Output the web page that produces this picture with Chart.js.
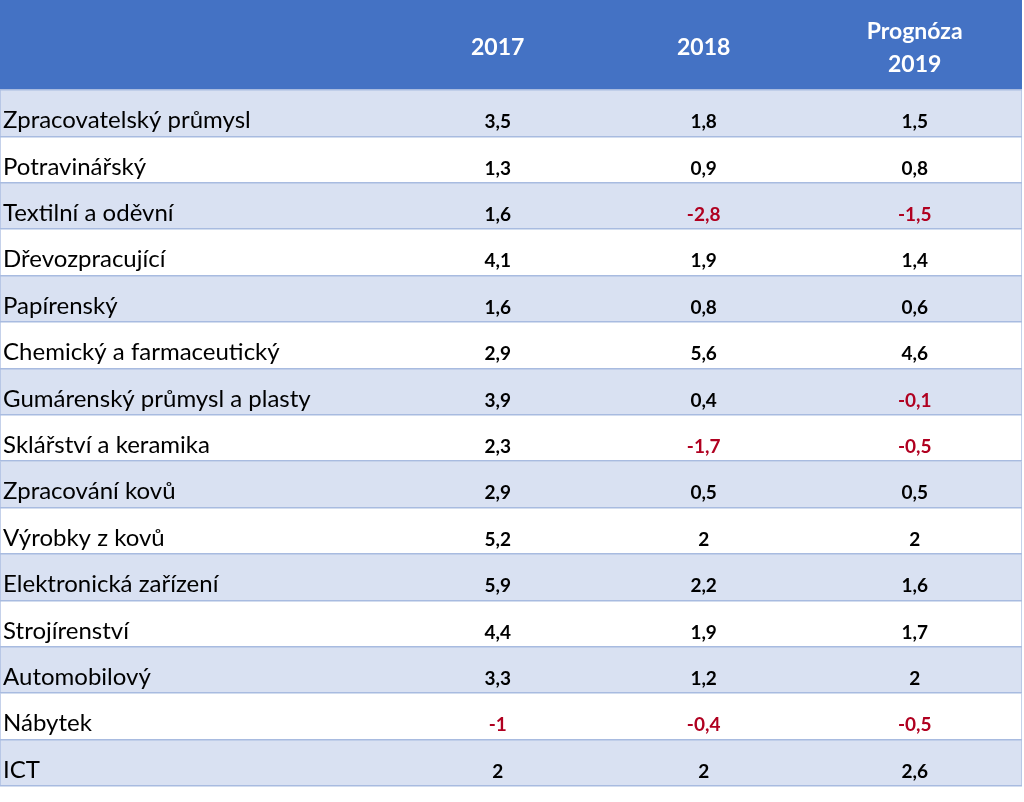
<!DOCTYPE html>
<html>
<head>
<meta charset="utf-8">
<script src="https://cdn.jsdelivr.net/npm/chart.js@4/dist/chart.umd.min.js"></script>
<style>
  html, body { margin: 0; padding: 0; background: #ffffff; }
  #wrap { position: relative; width: 1024px; height: 802px; }
</style>
</head>
<body>
<div id="wrap"><canvas id="c"></canvas></div>
<script>
// ---- data ----
const categories = [
  'Zpracovatelský průmysl', 'Potravinářský', 'Textilní a oděvní', 'Dřevozpracující',
  'Papírenský', 'Chemický a farmaceutický', 'Gumárenský průmysl a plasty',
  'Sklářství a keramika', 'Zpracování kovů', 'Výrobky z kovů', 'Elektronická zařízení',
  'Strojírenství', 'Automobilový', 'Nábytek', 'ICT'
];
const columnHeaders = [['2017'], ['2018'], ['Prognóza', '2019']];
const values2017 = [3.5, 1.3, 1.6, 4.1, 1.6, 2.9, 3.9, 2.3, 2.9, 5.2, 5.9, 4.4, 3.3, -1, 2];
const values2018 = [1.8, 0.9, -2.8, 1.9, 0.8, 5.6, 0.4, -1.7, 0.5, 2, 2.2, 1.9, 1.2, -0.4, 2];
const values2019 = [1.5, 0.8, -1.5, 1.4, 0.6, 4.6, -0.1, -0.5, 0.5, 2, 1.6, 1.7, 2, -0.5, 2.6];
const seriesValues = [values2017, values2018, values2019];

// ---- layout / style (not data) ----
const COL_CENTERS = [0.487, 0.6885, 0.895];   // in x-scale units (0..1 = table width)
const LABEL_X = 0.003;
const HEADER_BG = '#4472C4';
const BAND_BG = '#D9E1F2';
const LINE_COL = '#A8BBE0';
const NEG_COL = '#B00020';
const FONT = 'Lato, "Open Sans", sans-serif';

const fmt = v => String(v).replace('.', ',');

const tablePlugin = {
  id: 'tablePlugin',
  beforeDatasetsDraw(chart) {
    const ctx = chart.ctx, xs = chart.scales.x, ca = chart.chartArea;
    const x0 = xs.getPixelForValue(0), x1 = xs.getPixelForValue(1);
    ctx.save();
    ctx.fillStyle = HEADER_BG;
    ctx.fillRect(x0, 0, x1 - x0, ca.top);
    ctx.restore();
  },
  afterDraw(chart) {
    const ctx = chart.ctx, xs = chart.scales.x, ys = chart.scales.y, ca = chart.chartArea;
    ctx.save();
    // header texts
    ctx.fillStyle = '#ffffff';
    ctx.font = 'bold 23px ' + FONT;
    ctx.textAlign = 'center';
    ctx.textBaseline = 'alphabetic';
    const hc = ca.top / 2;
    columnHeaders.forEach((lines, i) => {
      const cx = xs.getPixelForValue(COL_CENTERS[i]);
      if (lines.length === 1) {
        ctx.fillText(lines[0], cx, hc + 10);
      } else {
        ctx.fillText(lines[0], cx, hc - 6);
        ctx.fillText(lines[1], cx, hc + 27);
      }
    });
    // row labels
    ctx.textAlign = 'left';
    ctx.fillStyle = '#000000';
    ctx.font = '24px ' + FONT;
    categories.forEach((lab, r) => {
      ctx.fillText(lab, xs.getPixelForValue(LABEL_X), ys.getPixelForValue(r) + 15);
    });
    // values
    ctx.textAlign = 'center';
    ctx.font = 'bold 19px ' + FONT;
    seriesValues.forEach((arr, c) => {
      const cx = xs.getPixelForValue(COL_CENTERS[c]);
      arr.forEach((v, r) => {
        ctx.fillStyle = v < 0 ? NEG_COL : '#000000';
        ctx.fillText(fmt(v), cx, ys.getPixelForValue(r) + 15);
      });
    });
    ctx.restore();
  }
};

new Chart(document.getElementById('c'), {
  type: 'bar',
  data: {
    labels: categories,
    datasets: [{
      label: 'rows',
      data: categories.map(() => [0, 1]),
      backgroundColor: ctx => (ctx.dataIndex % 2 === 0 ? BAND_BG : '#FFFFFF'),
      borderColor: LINE_COL,
      borderWidth: { left: 1, right: 1, top: 0, bottom: 0 },
      borderSkipped: false,
      barPercentage: 1,
      categoryPercentage: 1
    }]
  },
  options: {
    indexAxis: 'y',
    responsive: true,
    maintainAspectRatio: false,
    animation: false,
    events: [],
    layout: { padding: { top: 90, bottom: 16, left: 0, right: 2 } },
    plugins: { legend: { display: false }, tooltip: { enabled: false }, title: { display: false } },
    scales: {
      x: { type: 'linear', min: 0, max: 1, display: false },
      y: {
        type: 'category',
        display: true,
        offset: true,
        ticks: { display: false },
        border: { display: false },
        grid: { offset: true, color: LINE_COL, lineWidth: 1.5, drawTicks: false, z: 1 }
      }
    }
  },
  plugins: [tablePlugin]
});
</script>
</body>
</html>
